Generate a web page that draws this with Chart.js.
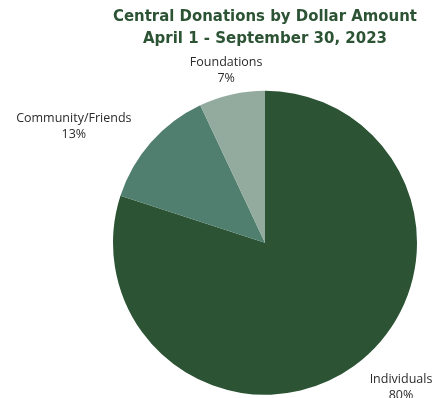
<!DOCTYPE html>
<html>
<head>
<meta charset="utf-8">
<script src="https://cdn.jsdelivr.net/npm/chart.js@4"></script>
<style>
  html, body { margin: 0; padding: 0; background: #fff; }
  #wrap { width: 442px; height: 398px; }
</style>
</head>
<body>
<div id="wrap"><canvas id="pieChart"></canvas></div>
<script>
const categories = ['Individuals', 'Community/Friends', 'Foundations'];
const shares = [80, 13, 7];
const sliceColors = ['#2c5334', '#517f6f', '#93ab9e'];
const titleLines = ['Central Donations by Dollar Amount', 'April 1 - September 30, 2023'];

// names and percentages placed just outside each slice
const outsideLabels = {
    id: 'outsideLabels',
    afterDatasetsDraw(chart) {
        const ctx = chart.ctx;
        const total = shares.reduce((a, b) => a + b, 0);
        ctx.save();
        ctx.font = '12.5px "Open Sans"';
        ctx.fillStyle = '#2b2b2b';
        ctx.textBaseline = 'middle';
        ctx.textAlign = 'center';
        chart.getDatasetMeta(0).data.forEach((arc, i) => {
            const p = arc.getProps(['x', 'y', 'startAngle', 'endAngle', 'outerRadius']);
            const mid = (p.startAngle + p.endAngle) / 2;
            const r = p.outerRadius + 26;
            const ax = p.x + Math.cos(mid) * r;
            const ay = p.y + Math.sin(mid) * r;
            const pct = Math.round(shares[i] / total * 100) + '%';
            const w = Math.max(ctx.measureText(categories[i]).width, ctx.measureText(pct).width);
            let cx = ax;
            if (Math.cos(mid) > 0.3) cx = ax + w / 2;
            else if (Math.cos(mid) < -0.3) cx = ax - w / 2;
            ctx.fillText(categories[i], cx, ay - 7);
            ctx.fillText(pct, cx, ay + 9);
        });
        ctx.restore();
    }
};

new Chart(document.getElementById('pieChart'), {
    type: 'pie',
    data: {
        labels: categories,
        datasets: [{
            data: shares,
            backgroundColor: sliceColors,
            borderWidth: 0
        }]
    },
    options: {
        responsive: true,
        maintainAspectRatio: false,
        animation: false,
        layout: { padding: { left: 113, right: 25, top: 0, bottom: 3 } },
        plugins: {
            legend: { display: false },
            tooltip: { enabled: false },
            title: {
                display: true,
                text: titleLines,
                color: '#2c5334',
                font: { family: '"DejaVu Sans"', size: 15, weight: 'bold', lineHeight: 1.45 },
                padding: { top: 6, bottom: 41 }
            }
        }
    },
    plugins: [outsideLabels]
});
</script>
</body>
</html>
